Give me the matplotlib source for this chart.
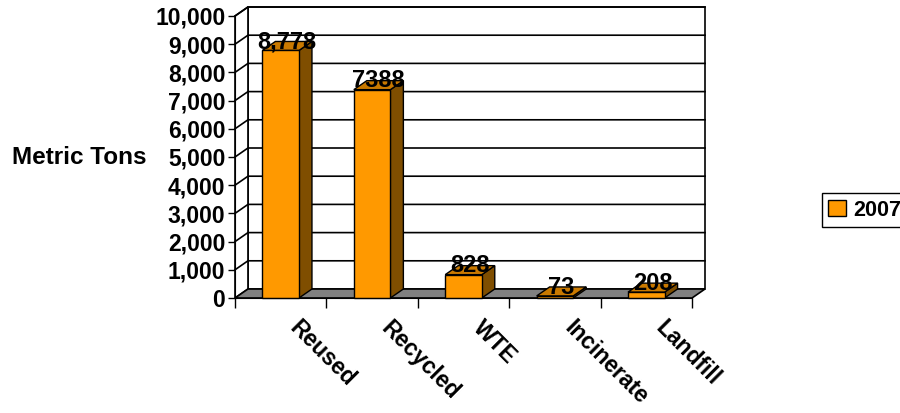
import matplotlib
matplotlib.use('Agg')
import matplotlib.pyplot as plt
from matplotlib.patches import Polygon, Patch
from matplotlib.ticker import FuncFormatter

categories = ['Reused', 'Recycled', 'WTE', 'Incinerate', 'Landfill']
values_2007 = [8778, 7388, 828, 73, 208]
value_labels = ['8,778', '7388', '828', '73', '208']
y_ticks = list(range(0, 10001, 1000))
series_name = '2007'
y_label = 'Metric Tons'

plt.rcParams['font.family'] = ['Liberation Sans', 'DejaVu Sans']
plt.rcParams['font.weight'] = 'bold'

FRONT = '#FF9900'
TOP = '#C97900'
SIDE = '#7F4E00'
FLOOR = '#808080'

W, H = 900, 413
fig = plt.figure(figsize=(9, 4.13), dpi=100)
ax = fig.add_axes([235 / W, (H - 298) / H, 470 / W, 291 / H])

n = len(categories)
DX = 0.142   # depth offset (category units)
DY = 319     # depth offset (value units)
ymax = y_ticks[-1]
ax.set_xlim(-0.5, n - 0.5 + DX)
ax.set_ylim(0, ymax + DY)
ax.patch.set_visible(False)
for s in ['top', 'right']:
    ax.spines[s].set_visible(False)
ax.spines['left'].set_bounds(0, ymax)
ax.spines['bottom'].set_bounds(-0.5, n - 0.5)
ax.spines['left'].set_zorder(6)
ax.spines['bottom'].set_zorder(6)
ax.set_yticks(y_ticks)
ax.yaxis.set_major_formatter(FuncFormatter(lambda v, p: f'{int(v):,}'))
ax.set_xticks([i - 0.5 for i in range(n + 1)])
ax.set_xticklabels([])
ax.tick_params(axis='y', length=5, width=1, pad=2, labelsize=16.5)
ax.tick_params(axis='x', length=7, width=1)

x0, x1 = -0.5, n - 0.5
# back wall
ax.add_patch(Polygon([(x0 + DX, DY), (x1 + DX, DY), (x1 + DX, ymax + DY), (x0 + DX, ymax + DY)],
                     closed=True, facecolor='white', edgecolor='black', lw=1.2, zorder=1, clip_on=False))
# left wall
ax.add_patch(Polygon([(x0, 0), (x0 + DX, DY), (x0 + DX, ymax + DY), (x0, ymax)],
                     closed=True, facecolor='white', edgecolor='black', lw=1.2, zorder=1, clip_on=False))
# gridlines
for v in y_ticks[1:]:
    ax.plot([x0, x0 + DX, x1 + DX], [v, v + DY, v + DY], color='black', lw=1.2, zorder=2, clip_on=False)
# floor
ax.add_patch(Polygon([(x0, 0), (x1, 0), (x1 + DX, DY), (x0 + DX, DY)],
                     closed=True, facecolor=FLOOR, edgecolor='black', lw=1.2, zorder=3, clip_on=False))

bw = 0.4
for i, v in enumerate(values_2007):
    l, r = i - bw / 2, i + bw / 2
    ax.add_patch(Polygon([(r, 0), (r + DX, DY), (r + DX, v + DY), (r, v)],
                         closed=True, facecolor=SIDE, edgecolor='black', lw=1, zorder=4, clip_on=False))
    ax.add_patch(Polygon([(l, v), (r, v), (r + DX, v + DY), (l + DX, v + DY)],
                         closed=True, facecolor=TOP, edgecolor='black', lw=1, zorder=4, clip_on=False))
    ax.bar(i, v, width=bw, color=FRONT, edgecolor='black', lw=1, zorder=5, clip_on=False)
    ax.text(i + DX / 2, v + 80, value_labels[i], ha='center', va='baseline',
            fontsize=17, fontweight='bold', zorder=8, clip_on=False)

for i, c in enumerate(categories):
    ax.text(i + 0.23, -650, c, rotation=-45, rotation_mode='anchor', ha='left', va='top',
            fontsize=16.5, fontweight='bold', clip_on=False)

fig.text(12 / W, 1 - 158 / H, y_label, ha='left', va='center', fontsize=17.5, fontweight='bold')

handles = [Patch(facecolor=FRONT, edgecolor='black', label=series_name)]
leg = fig.legend(handles=handles, loc='center left', bbox_to_anchor=(822 / W, 1 - 210 / H),
                 frameon=True, fancybox=False, edgecolor='black', framealpha=1,
                 handlelength=0.8, handleheight=0.8, handletextpad=0.35, borderpad=0.3,
                 borderaxespad=0, prop={'size': 15.5, 'weight': 'bold'})
leg.get_frame().set_linewidth(1)

fig.savefig('out.png', dpi=100)
